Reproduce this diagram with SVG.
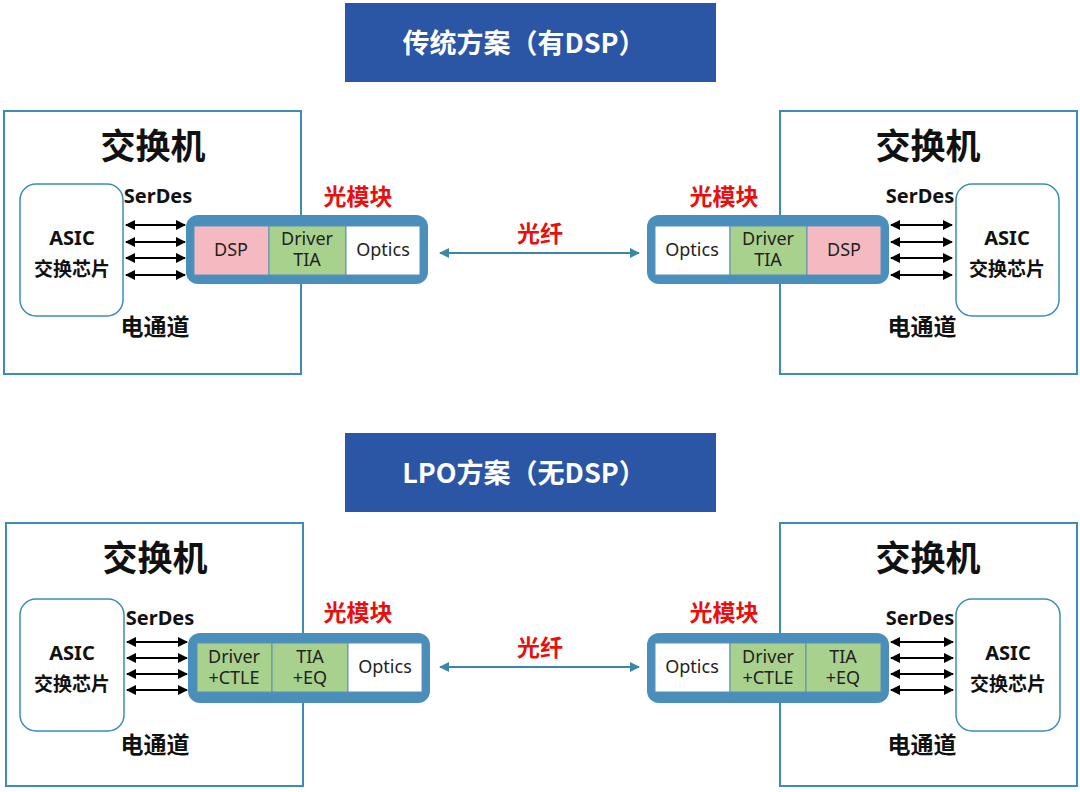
<svg xmlns="http://www.w3.org/2000/svg" width="1080" height="792" viewBox="0 0 1080 792">
<style>
.title{fill:#2B55A5;}
.ttext{font-family:"Noto Sans CJK SC","Noto Sans",sans-serif;font-weight:bold;font-size:27px;fill:#fff;text-anchor:middle;}
.sw{fill:#fff;stroke:#3B8DB2;stroke-width:2;}
.asic{fill:#fff;stroke:#3B8DB2;stroke-width:1.5;}
.mod{fill:#4A8EBC;}
.pink{fill:#F5B9C1;stroke:#5A8FB5;stroke-width:1;}
.green{fill:#A9D18E;stroke:#5A8FB5;stroke-width:1;}
.white{fill:#fff;stroke:#5A8FB5;stroke-width:1;}
.big{font-family:"Noto Sans CJK SC",sans-serif;font-weight:bold;font-size:35px;fill:#111;text-anchor:middle;}
.lbl{font-family:"Noto Sans","Noto Sans CJK SC",sans-serif;font-weight:bold;font-size:20px;fill:#111;text-anchor:middle;}
.sub{font-family:"Noto Sans CJK SC",sans-serif;font-weight:bold;font-size:19px;fill:#111;text-anchor:middle;}
.ch{font-family:"Noto Sans CJK SC",sans-serif;font-weight:bold;font-size:23px;fill:#111;text-anchor:middle;}
.red{font-family:"Noto Sans CJK SC",sans-serif;font-weight:bold;font-size:23px;fill:#E8100F;text-anchor:middle;}
.cell{font-family:"Noto Sans","Open Sans",sans-serif;font-size:18px;fill:#222;text-anchor:middle;}
.bus{stroke:#000;stroke-width:2;marker-start:url(#ka);marker-end:url(#ka);}
.fiber{stroke:#3A87A8;stroke-width:2;marker-start:url(#fa);marker-end:url(#fa);}
</style>
<defs>
<marker id="ka" viewBox="0 0 10 10" refX="9" refY="5" markerWidth="5.5" markerHeight="5" orient="auto-start-reverse" markerUnits="strokeWidth"><path d="M0,0 L10,5 L0,10 z" fill="#000"/></marker>
<marker id="fa" viewBox="0 0 10 10" refX="9" refY="5" markerWidth="5.5" markerHeight="5" orient="auto-start-reverse" markerUnits="strokeWidth"><path d="M0,0 L10,5 L0,10 z" fill="#3A87A8"/></marker>
</defs>
<rect width="1080" height="792" fill="#fff"/>

<g id="title-top"><rect class="title" x="345" y="3" width="371" height="79"/><text class="ttext" x="524" y="53">传统方案（有DSP）</text></g>
<g id="title-bottom"><rect class="title" x="345" y="433" width="371" height="79"/><text class="ttext" x="524" y="483">LPO方案（无DSP）</text></g>

<g id="switch-tl"><rect class="sw" x="4" y="111" width="297" height="263"/><text class="big" x="153" y="159">交换机</text>
<rect class="asic" x="20" y="184" width="103" height="132" rx="16"/><text class="lbl" x="72" y="245">ASIC</text><text class="sub" x="72" y="276">交换芯片</text>
<text class="lbl" x="158" y="203">SerDes</text><text class="ch" x="155" y="335">电通道</text></g>
<g id="switch-tr"><rect class="sw" x="780" y="111" width="297" height="263"/><text class="big" x="928" y="159">交换机</text>
<rect class="asic" x="956" y="184" width="103" height="132" rx="16"/><text class="lbl" x="1007" y="245">ASIC</text><text class="sub" x="1007" y="276">交换芯片</text>
<text class="lbl" x="920" y="203">SerDes</text><text class="ch" x="922" y="335">电通道</text></g>
<g id="switch-bl"><rect class="sw" x="6" y="523" width="297" height="263"/><text class="big" x="155" y="571">交换机</text>
<rect class="asic" x="20" y="599" width="104" height="132" rx="16"/><text class="lbl" x="72" y="660">ASIC</text><text class="sub" x="72" y="691">交换芯片</text>
<text class="lbl" x="160" y="625">SerDes</text><text class="ch" x="155" y="753">电通道</text></g>
<g id="switch-br"><rect class="sw" x="780" y="523" width="297" height="263"/><text class="big" x="928" y="571">交换机</text>
<rect class="asic" x="956" y="599" width="104" height="132" rx="16"/><text class="lbl" x="1008" y="660">ASIC</text><text class="sub" x="1008" y="691">交换芯片</text>
<text class="lbl" x="920" y="625">SerDes</text><text class="ch" x="922" y="753">电通道</text></g>

<g id="module-tl"><text class="red" x="358" y="205">光模块</text><rect class="mod" x="186" y="215" width="242" height="69" rx="12"/>
<rect class="pink" x="194" y="226" width="75" height="49"/><rect class="green" x="269" y="226" width="77" height="49"/><rect class="white" x="346" y="226" width="74" height="49"/>
<text class="cell" x="231" y="256">DSP</text><text class="cell" x="307" y="245">Driver<tspan x="307" dy="21">TIA</tspan></text><text class="cell" x="383" y="256">Optics</text></g>
<g id="module-tr"><text class="red" x="724" y="205">光模块</text><rect class="mod" x="647" y="215" width="242" height="69" rx="12"/>
<rect class="white" x="655" y="226" width="75" height="49"/><rect class="green" x="730" y="226" width="77" height="49"/><rect class="pink" x="807" y="226" width="74" height="49"/>
<text class="cell" x="692" y="256">Optics</text><text class="cell" x="768" y="245">Driver<tspan x="768" dy="21">TIA</tspan></text><text class="cell" x="844" y="256">DSP</text></g>
<g id="module-bl"><text class="red" x="358" y="621">光模块</text><rect class="mod" x="188" y="633" width="242" height="70" rx="12"/>
<rect class="green" x="197" y="643" width="75" height="49"/><rect class="green" x="272" y="643" width="76" height="49"/><rect class="white" x="348" y="643" width="74" height="49"/>
<text class="cell" x="234" y="663">Driver<tspan x="234" dy="21">+CTLE</tspan></text><text class="cell" x="310" y="663">TIA<tspan x="310" dy="21">+EQ</tspan></text><text class="cell" x="385" y="673">Optics</text></g>
<g id="module-br"><text class="red" x="724" y="621">光模块</text><rect class="mod" x="647" y="633" width="242" height="70" rx="12"/>
<rect class="white" x="655" y="643" width="75" height="49"/><rect class="green" x="730" y="643" width="76" height="49"/><rect class="green" x="806" y="643" width="75" height="49"/>
<text class="cell" x="692" y="673">Optics</text><text class="cell" x="768" y="663">Driver<tspan x="768" dy="21">+CTLE</tspan></text><text class="cell" x="843" y="663">TIA<tspan x="843" dy="21">+EQ</tspan></text></g>

<g id="fiber-labels"><text class="red" x="540" y="242">光纤</text><text class="red" x="540" y="656">光纤</text></g>

<g id="connectors">
<line class="bus" x1="126" y1="225" x2="185" y2="225"/><line class="bus" x1="126" y1="242" x2="185" y2="242"/><line class="bus" x1="126" y1="258" x2="185" y2="258"/><line class="bus" x1="126" y1="275" x2="185" y2="275"/>
<line class="bus" x1="891" y1="225" x2="952" y2="225"/><line class="bus" x1="891" y1="242" x2="952" y2="242"/><line class="bus" x1="891" y1="258" x2="952" y2="258"/><line class="bus" x1="891" y1="275" x2="952" y2="275"/>
<line class="bus" x1="127" y1="642" x2="187" y2="642"/><line class="bus" x1="127" y1="658" x2="187" y2="658"/><line class="bus" x1="127" y1="674" x2="187" y2="674"/><line class="bus" x1="127" y1="690" x2="187" y2="690"/>
<line class="bus" x1="891" y1="642" x2="953" y2="642"/><line class="bus" x1="891" y1="658" x2="953" y2="658"/><line class="bus" x1="891" y1="674" x2="953" y2="674"/><line class="bus" x1="891" y1="690" x2="953" y2="690"/>
<line class="fiber" x1="440" y1="253" x2="639" y2="253"/>
<line class="fiber" x1="440" y1="667" x2="639" y2="667"/>
</g>
</svg>
